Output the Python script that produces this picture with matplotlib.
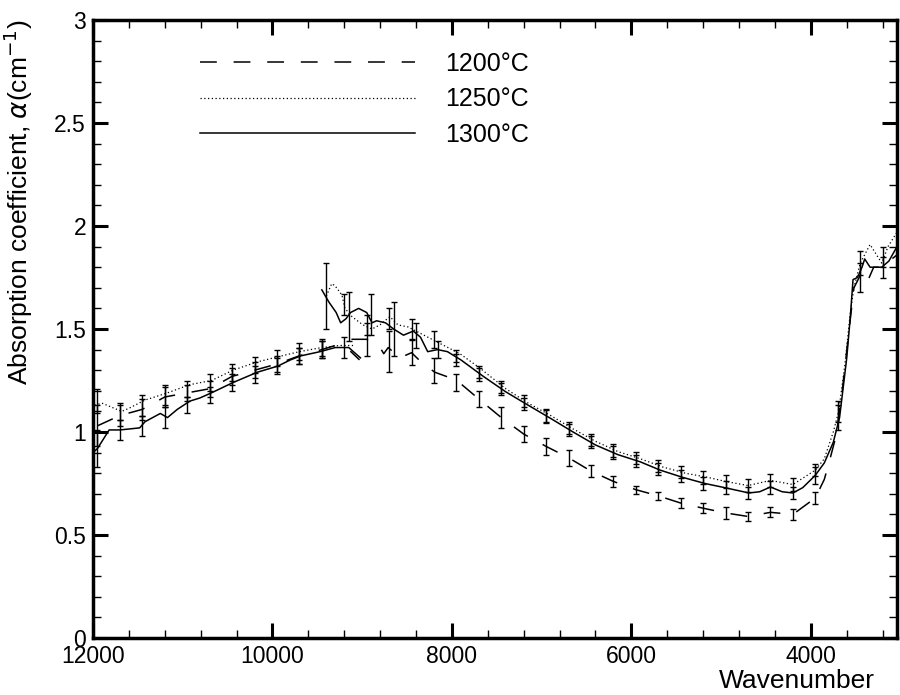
import numpy as np
import matplotlib.pyplot as plt
from matplotlib.ticker import MultipleLocator, FormatStrFormatter

plt.rcParams['font.family'] = ['Liberation Sans', 'DejaVu Sans']

# ---- 1300 C (solid) ----
wn_1300_a = [12000, 11950, 11820, 11700, 11480, 11420, 11250, 11170, 11060, 10920,
             10810, 10680, 10440, 10170, 9940, 9800, 9680, 9470, 9300, 9150, 9020]
ab_1300_a = [0.90, 0.92, 1.01, 1.01, 1.02, 1.05, 1.09, 1.07, 1.11, 1.15,
             1.165, 1.19, 1.24, 1.29, 1.32, 1.35, 1.37, 1.39, 1.41, 1.41, 1.36]
wn_1300_b = [9450, 9370, 9290, 9240, 9180, 9130, 9040, 8950, 8890, 8840, 8740, 8650,
             8540, 8430, 8350, 8270, 8160, 8050, 7900, 7650, 7400, 7150, 6900, 6650,
             6400, 6150, 5900, 5680, 5430, 5180, 4940, 4690, 4570, 4450, 4320, 4200,
             4090, 3950, 3850, 3750, 3680, 3600, 3560, 3530, 3480, 3430, 3400, 3340,
             3210, 3130, 3040]
ab_1300_b = [1.69, 1.63, 1.58, 1.53, 1.55, 1.58, 1.60, 1.58, 1.53, 1.54, 1.53, 1.50,
             1.47, 1.49, 1.46, 1.39, 1.40, 1.39, 1.35, 1.27, 1.195, 1.13, 1.066, 1.00,
             0.937, 0.89, 0.855, 0.815, 0.78, 0.75, 0.728, 0.704, 0.71, 0.733, 0.71, 0.704,
             0.73, 0.79, 0.85, 0.95, 1.07, 1.36, 1.56, 1.74, 1.75, 1.80, 1.84, 1.80,
             1.80, 1.83, 1.90]
eb_wn_1300 = [11950, 11700, 11450, 11200, 10950, 10700, 10450, 10200, 9950, 9700, 9450,
              9400, 9150, 8900, 8650, 8400, 8150, 7950, 7700, 7450, 7200, 6950, 6700,
              6450, 6200, 5950, 5700, 5450, 5200, 4950, 4700, 4450, 4200, 3950, 3700,
              3450, 3200]
eb_ab_1300 = [0.92, 1.01, 1.03, 1.07, 1.13, 1.18, 1.24, 1.28, 1.32, 1.37, 1.40,
              1.66, 1.56, 1.57, 1.50, 1.47, 1.40, 1.35, 1.28, 1.21, 1.135, 1.075, 1.01,
              0.95, 0.90, 0.86, 0.82, 0.785, 0.75, 0.73, 0.705, 0.73, 0.705, 0.79, 1.07,
              1.75, 1.80]
eb_err_1300 = [0.09, 0.05, 0.05, 0.05, 0.04, 0.04, 0.04, 0.04, 0.04, 0.04, 0.04,
               0.16, 0.12, 0.10, 0.13, 0.06, 0.04, 0.03, 0.03, 0.03, 0.03, 0.03, 0.03,
               0.03, 0.03, 0.03, 0.03, 0.03, 0.03, 0.03, 0.03, 0.03, 0.03, 0.04, 0.06,
               0.07, 0.05]

# ---- 1250 C (dotted) ----
wn_1250_a = [11980, 11900, 11680, 11600, 11420, 11170, 10920, 10680, 10440, 10170,
             9940, 9700, 9450, 9250, 9100]
ab_1250_a = [1.13, 1.14, 1.10, 1.115, 1.155, 1.19, 1.23, 1.25, 1.30, 1.34,
             1.365, 1.39, 1.41, 1.42, 1.42]
wn_1250_b = [9400, 9340, 9303, 9226, 9192, 9114, 8992, 8891, 8802, 8691, 8602, 8490,
             8379, 8267, 8134, 7911, 7688, 7400, 7150, 6900, 6650, 6400, 6150, 5900,
             5650, 5400, 5150, 4950, 4700, 4450, 4200, 3950, 3850, 3750, 3690, 3620,
             3560, 3520, 3450, 3340, 3210, 3140, 3040]
ab_1250_b = [1.66, 1.72, 1.71, 1.665, 1.60, 1.56, 1.52, 1.50, 1.52, 1.56, 1.52, 1.51,
             1.485, 1.46, 1.43, 1.38, 1.31, 1.21, 1.14, 1.08, 1.015, 0.955, 0.905, 0.87,
             0.83, 0.80, 0.78, 0.76, 0.74, 0.765, 0.745, 0.815, 0.87, 1.00, 1.10, 1.33,
             1.58, 1.70, 1.82, 1.91, 1.82, 1.90, 1.97]
eb_wn_1250 = [11950, 11700, 11450, 11200, 10950, 10700, 10450, 10200, 9950, 9700, 9450,
              9200, 8950, 8700, 8450, 8200, 7950, 7700, 7450, 7200, 6950, 6700, 6450,
              6200, 5950, 5700, 5450, 5200, 4950, 4700, 4450, 4200, 3950, 3700, 3450,
              3200]
eb_ab_1250 = [1.15, 1.10, 1.13, 1.18, 1.21, 1.24, 1.29, 1.325, 1.36, 1.39, 1.41,
              1.62, 1.52, 1.55, 1.50, 1.45, 1.37, 1.29, 1.22, 1.15, 1.08, 1.02, 0.96,
              0.91, 0.875, 0.835, 0.805, 0.78, 0.76, 0.74, 0.765, 0.745, 0.815, 1.10, 1.82,
              1.85]
eb_err_1250 = [0.06, 0.04, 0.05, 0.05, 0.04, 0.04, 0.04, 0.04, 0.04, 0.04, 0.04,
               0.05, 0.05, 0.05, 0.05, 0.04, 0.03, 0.03, 0.03, 0.03, 0.03, 0.03, 0.03,
               0.03, 0.03, 0.03, 0.03, 0.03, 0.03, 0.03, 0.03, 0.03, 0.03, 0.05, 0.06,
               0.05]

# ---- 1200 C (dashed) ----
wn_1200_a = [11950, 11700, 11450, 11200, 10950, 10700, 10450, 10200, 9950, 9700, 9450,
             9300, 9150, 9030]
ab_1200_a = [1.03, 1.08, 1.11, 1.17, 1.19, 1.21, 1.27, 1.30, 1.33, 1.37, 1.40,
             1.42, 1.40, 1.35]
wn_1200_b = [9120, 8950, 8800, 8760, 8710, 8580, 8450, 8320, 8190, 8000, 7890, 7700,
             7450, 7200, 6950, 6700, 6450, 6200, 5950, 5700, 5450, 5200, 4950, 4700,
             4450, 4200, 3950, 3850, 3780, 3720, 3650, 3560, 3520, 3450, 3380, 3300,
             3210, 3040]
ab_1200_b = [1.45, 1.45, 1.41, 1.38, 1.41, 1.36, 1.385, 1.33, 1.29, 1.26, 1.23, 1.16,
             1.07, 0.99, 0.93, 0.875, 0.81, 0.76, 0.72, 0.69, 0.655, 0.63, 0.607, 0.59,
             0.61, 0.60, 0.68, 0.77, 0.88, 0.98, 1.20, 1.55, 1.70, 1.76, 1.72, 1.80,
             1.80, 1.86]
eb_wn_1200 = [11950, 11700, 11450, 11200, 10950, 10700, 10450, 10200, 9950, 9700, 9450,
              9200, 8950, 8700, 8450, 8200, 7950, 7700, 7450, 7200, 6950, 6700, 6450,
              6200, 5950, 5700, 5450, 5200, 4950, 4700, 4450, 4200, 3950]
eb_ab_1200 = [1.03, 1.08, 1.11, 1.17, 1.19, 1.21, 1.27, 1.30, 1.33, 1.37, 1.40,
              1.41, 1.45, 1.39, 1.385, 1.30, 1.24, 1.16, 1.07, 0.99, 0.93, 0.875, 0.81,
              0.76, 0.72, 0.69, 0.655, 0.63, 0.607, 0.59, 0.61, 0.60, 0.68]
eb_err_1200 = [0.10, 0.05, 0.05, 0.05, 0.04, 0.04, 0.04, 0.04, 0.04, 0.04, 0.04,
               0.05, 0.08, 0.10, 0.06, 0.06, 0.04, 0.04, 0.05, 0.04, 0.04, 0.04, 0.03,
               0.025, 0.02, 0.02, 0.025, 0.025, 0.027, 0.02, 0.025, 0.026, 0.03]

labels = ['1200°C', '1250°C', '1300°C']

fig = plt.figure(figsize=(9, 6.95), dpi=100)
ax = fig.add_axes([93/900, 1-638/695, 804/900, 618/695])

dash = (0, (11, 11))
dot = (0, (1, 2))
ebkw = dict(fmt='none', ecolor='black', elinewidth=1.0, capsize=2.5, capthick=1.0)

l1, = ax.plot(wn_1200_a, ab_1200_a, color='black', lw=1.1, linestyle=dash)
ax.plot(wn_1200_b, ab_1200_b, color='black', lw=1.1, linestyle=dash)
ax.errorbar(eb_wn_1200, eb_ab_1200, yerr=eb_err_1200, **ebkw)

l2, = ax.plot(wn_1250_a, ab_1250_a, color='black', lw=0.9, linestyle=dot)
ax.plot(wn_1250_b, ab_1250_b, color='black', lw=0.9, linestyle=dot)
ax.errorbar(eb_wn_1250, eb_ab_1250, yerr=eb_err_1250, **ebkw)

l3, = ax.plot(wn_1300_a, ab_1300_a, color='black', lw=1.1, linestyle='-')
ax.plot(wn_1300_b, ab_1300_b, color='black', lw=1.1, linestyle='-')
ax.errorbar(eb_wn_1300, eb_ab_1300, yerr=eb_err_1300, **ebkw)

ax.set_xlim(12000, 3040)
ax.set_ylim(0, 3)

ax.xaxis.set_major_locator(MultipleLocator(2000))
ax.xaxis.set_minor_locator(MultipleLocator(400))
ax.yaxis.set_major_locator(MultipleLocator(0.5))
ax.yaxis.set_minor_locator(MultipleLocator(0.1))
ax.yaxis.set_major_formatter(FormatStrFormatter('%g'))

ax.tick_params(which='both', direction='in', top=True, right=True, colors='black')
ax.tick_params(which='major', length=11, width=2.2, labelsize=16.5, pad=5)
ax.tick_params(which='minor', length=5.5, width=1.0)
for s in ax.spines.values():
    s.set_linewidth(2.5)

ax.set_ylabel('Absorption coefficient, $\\alpha$(cm$^{-1}$)', fontsize=19)
ax.yaxis.set_label_coords(-0.072, 0.705)
ax.set_xlabel('Wavenumber', fontsize=19)
ax.xaxis.set_label_coords(0.876, -0.05)

ax.legend([l1, l2, l3], labels, loc='upper left', bbox_to_anchor=(0.133, 0.948),
          frameon=False, fontsize=18, handlelength=8.6, handletextpad=1.2,
          labelspacing=0.45, borderpad=0, borderaxespad=0)

fig.savefig('out.png', dpi=100)
